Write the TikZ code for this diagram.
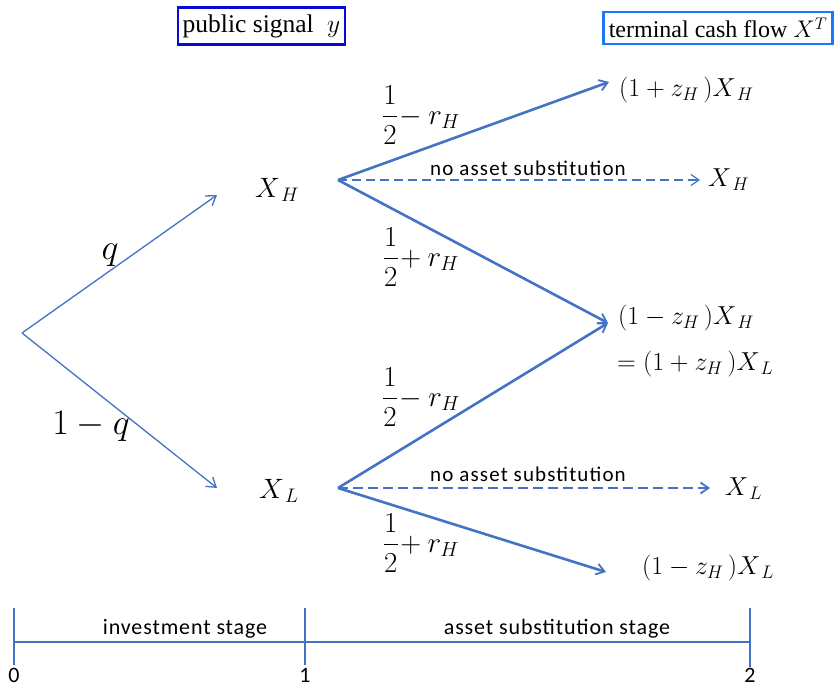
\RequirePackage{fix-cm}
\documentclass[tikz,border=0pt]{standalone}
\usepackage{amsmath}
\usepackage{fontspec}
\setmainfont{Liberation Serif}
\newfontfamily\calfont[LetterSpace=4]{Carlito}
\newfontfamily\calfontw[LetterSpace=5.5]{Carlito}
\usetikzlibrary{arrows.meta}
\definecolor{lb}{RGB}{68,114,196}
\definecolor{boxa}{RGB}{10,10,210}
\definecolor{boxb}{RGB}{30,120,250}
\tikzset{
  thinarr/.style={draw=lb, line width=1.3pt, -{Straight Barb[length=9pt,width=12pt,line width=1.3pt]}},
  thickarr/.style={draw=lb, line width=2.6pt, -{Straight Barb[length=8pt,width=11pt,line width=1.8pt]}},
  thindash/.style={draw=lb, line width=1.2pt, dash pattern=on 9pt off 5pt, -{Straight Barb[length=8pt,width=11pt,line width=1.2pt]}},
  thickdash/.style={draw=lb, line width=2.4pt, dash pattern=on 10pt off 5pt, -{Straight Barb[length=8pt,width=11pt,line width=1.8pt]}},
  mlabel/.style={font=\fontsize{28}{30}\selectfont, inner sep=0pt},
  rlabel/.style={font=\fontsize{26}{28}\selectfont, inner sep=0pt},
  frac/.style={font=\fontsize{29}{31}\selectfont, inner sep=0pt},
  sublabel/.style={font=\calfontw\fontsize{21}{23}\selectfont, inner sep=0pt},
  axlabel/.style={font=\calfont\fontsize{22}{24}\selectfont, inner sep=0pt},
  hdrbox/.style={line width=2.4pt, inner xsep=3pt, inner ysep=4pt},
  axline/.style={draw=lb, line width=2.6pt},
}
\begin{document}
\begin{tikzpicture}[x=1pt,y=-1pt]
\useasboundingbox (0,0) rectangle (836,687);
% header boxes
\node[hdrbox, font=\fontsize{25.5}{27}\selectfont, draw=boxa, minimum width=167pt, minimum height=37pt] (sig) at (261.5,26) {public signal \;$y$};
\node[hdrbox, font=\fontsize{24}{26}\selectfont, draw=boxb, minimum width=229pt, minimum height=32pt] (tcf) at (718,28) {terminal cash flow $X^{T}$};
% root and first stage
\coordinate (root) at (22,333);
\coordinate (tH) at (217,195);
\coordinate (tL) at (217,488);
\node[mlabel] (XH) at (277,190) {$X_{\,H}$};
\node[mlabel] (XL) at (279,491) {$X_{\,L}$};
\draw[thinarr] (root) -- (tH);
\draw[thinarr] (root) -- (tL);
\node[font=\fontsize{36}{38}\selectfont, inner sep=0pt] (q) at (110,255) {$q$};
\node[font=\fontsize{36}{38}\selectfont, inner sep=0pt] (q1) at (91,426) {$1-q$};
% second stage origins and targets
\coordinate (oH) at (338,180);
\coordinate (oL) at (338,488);
\coordinate (t1) at (609,82);
\coordinate (t2) at (700,180);
\coordinate (t3) at (608,323);
\coordinate (t4) at (710,488);
\coordinate (t5) at (606,572);
\draw[thickarr] (oH) -- (t1);
\draw[thindash] (oH) -- (t2);
\draw[thickarr] (oH) -- (t3);
\draw[thickarr] (oL) -- (t3);
\draw[thickdash] (oL) -- (t4);
\draw[thickarr] (oL) -- (t5);
% branch labels
\node[frac] (f1) at (421,115) {$\dfrac{1}{2}\!-r_{H}$};
\node[frac] (f2) at (421,257) {$\dfrac{1}{2}\!+r_{H}$};
\node[frac] (f3) at (421,397) {$\dfrac{1}{2}\!-r_{H}$};
\node[frac] (f4) at (421,543) {$\dfrac{1}{2}\!+r_{H}$};
\node[sublabel] (n1) at (528,168) {no asset substitution};
\node[sublabel] (n2) at (528,474) {no asset substitution};
% results
\node[rlabel, anchor=west] (r1) at (619,90) {$(1+z_{H}\,)X_{\,H}$};
\node[rlabel, anchor=west] (r2) at (708,180) {$X_{\,H}$};
\node[rlabel, anchor=west] (r3) at (618,318) {$(1-z_{H}\,)X_{\,H}$};
\node[rlabel, anchor=west] (r4) at (617,364) {$=(1+z_{H}\,)X_{\,L}$};
\node[rlabel, anchor=west] (r5) at (725,489) {$X_{\,L}$};
\node[rlabel, anchor=west] (r6) at (642,568) {$(1-z_{H}\,)X_{\,L}$};
% timeline
\coordinate (a0) at (14,642);
\coordinate (a1) at (305,642);
\coordinate (a2) at (750,642);
\draw[axline] (a0) -- (a2);
\draw[axline] (14,608) -- (14,665);
\draw[axline] (305,608) -- (305,665);
\draw[draw=lb, line width=1.2pt] (750,608) -- (750,667);
\node[axlabel] (s1) at (185,629) {investment stage};
\node[axlabel] (s2) at (557,629) {asset substitution stage};
\node[axlabel] (l0) at (14,675) {0};
\node[axlabel] (l1) at (305,675) {1};
\node[axlabel] (l2) at (750,675) {2};
\end{tikzpicture}
\end{document}
